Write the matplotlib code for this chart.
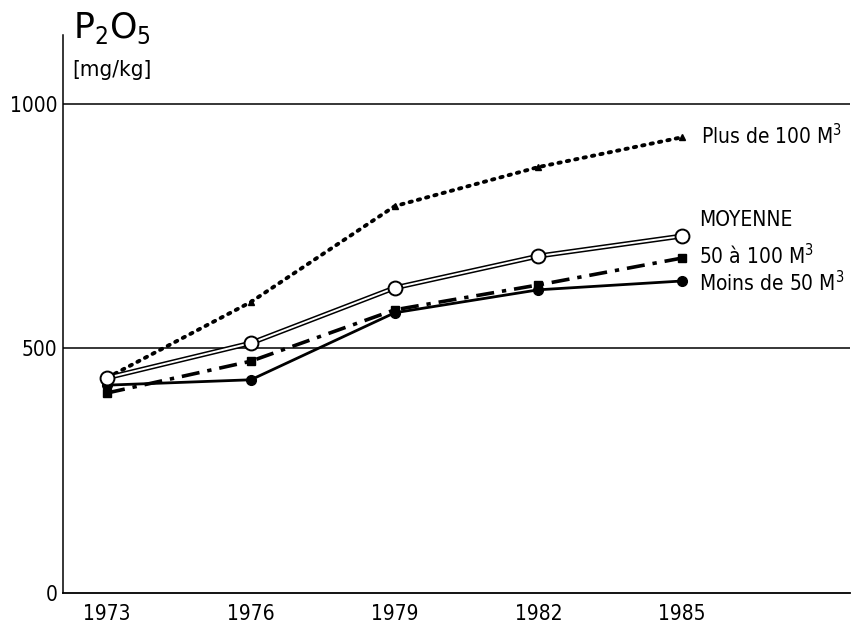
import matplotlib
matplotlib.use("Agg")
import matplotlib.pyplot as plt
import matplotlib.patheffects as pe

years = [1973, 1976, 1979, 1982, 1985]
plus_100 = [440, 595, 791, 871, 932]
moyenne = [440, 511, 624, 689, 730]
de50_100 = [409, 474, 579, 630, 685]
moins_50 = [425, 436, 573, 620, 638]
yticks = [0, 500, 1000]

plt.rcParams['font.family'] = ['DejaVu Sans']
plt.rcParams['font.stretch'] = 'condensed'
plt.rcParams['mathtext.fontset'] = 'custom'
plt.rcParams['mathtext.rm'] = 'DejaVu Sans:stretch=condensed'

fig = plt.figure(figsize=(8.57, 6.27), dpi=100)
ax = fig.add_axes([63/857, 1-593/627, (850-63)/857, (593-35)/627])

ax.set_xlim(1972.08, 1988.5)
ax.set_ylim(0, 1141)

for y in [500, 1000]:
    ax.axhline(y, color='black', lw=1.1, zorder=1)

ax.plot(years, plus_100, color='black', ls=(0, (0.6, 1.6)), lw=2.8,
        dash_capstyle='round', marker='^', ms=5, zorder=3)
ax.plot(years, moyenne, color='black', lw=1.0, zorder=4,
        path_effects=[pe.Stroke(linewidth=3.6, foreground='black'),
                      pe.Stroke(linewidth=1.4, foreground='white')])
ax.plot(years, moyenne, ls='none', marker='o', ms=10, mfc='white',
        mec='black', mew=1.4, zorder=6)
ax.plot(years, de50_100, color='black', ls=(0, (5, 2.2, 1.2, 2.2)), lw=2.6,
        marker='s', ms=6, zorder=4)
ax.plot(years, moins_50, color='black', lw=2.0, marker='o', ms=7, zorder=5)

fs = 15
ax.text(1985.4, plus_100[-1] + 4, 'Plus de 100 M$^3$', fontsize=fs, va='center', ha='left')
ax.text(1985.35, moyenne[-1] + 32, 'MOYENNE', fontsize=fs, va='center', ha='left')
ax.text(1985.35, de50_100[-1] + 5, '50 à 100 M$^3$', fontsize=fs, va='center', ha='left')
ax.text(1985.35, moins_50[-1] - 4, 'Moins de 50 M$^3$', fontsize=fs, va='center', ha='left')

fig.text(73/857, 1-28/627, 'P$_2$O$_5$', fontsize=25, ha='left', va='center',
         stretch='normal', math_fontfamily='dejavusans')
fig.text(72/857, 1-70/627, '[mg/kg]', fontsize=16, ha='left', va='center')

ax.set_xticks(years)
ax.set_xticklabels([str(y) for y in years], fontsize=15)
ax.set_yticks(yticks)
ax.set_yticklabels([str(y) for y in yticks], fontsize=15)
ax.tick_params(length=0, pad=4)
ax.tick_params(axis='x', pad=8)

for s in ['top', 'right']:
    ax.spines[s].set_visible(False)
ax.spines['left'].set_linewidth(1.1)
ax.spines['bottom'].set_linewidth(1.3)

fig.savefig('out.png', dpi=100, facecolor='white')
